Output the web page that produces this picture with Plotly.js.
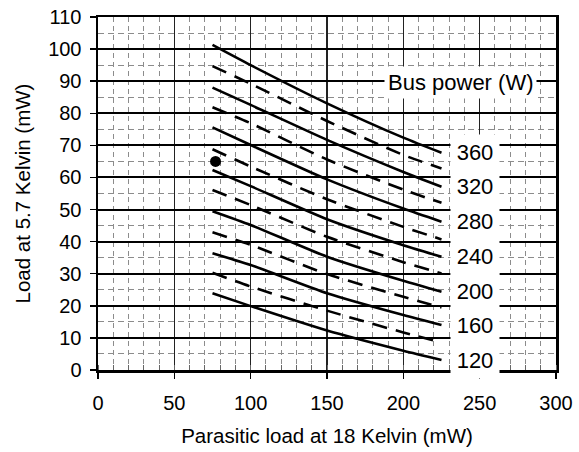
<!DOCTYPE html>
<html><head><meta charset="utf-8">
<script src="https://cdn.plot.ly/plotly-3.0.1.min.js"></script>
<style>html,body{margin:0;padding:0;background:#fff}#chart{width:579px;height:452px}</style>
</head><body><div id="chart"></div>
<script>
// Parasitic load at 18 K (mW) sample positions
const parasitic = [75, 100, 150, 200, 225];
// Load at 5.7 K (mW) for each bus power curve (W)
const bus360 = [101.3, 95.0, 83.1, 72.4, 67.7];
const bus340 = [94.7, 89.2, 77.6, 67.0, 62.8];
const bus320 = [88.0, 82.6, 71.7, 61.7, 57.1];
const bus300 = [81.9, 76.9, 65.6, 56.2, 52.1];
const bus280 = [75.6, 70.1, 59.4, 50.3, 46.2];
const bus260 = [68.8, 63.4, 53.2, 44.6, 40.7];
const bus240 = [62.3, 57.3, 47.0, 38.9, 35.3];
const bus220 = [56.1, 51.4, 41.5, 33.6, 30.1];
const bus200 = [49.5, 45.2, 35.3, 27.8, 24.4];
const bus180 = [42.9, 39.0, 29.9, 22.8, 19.5];
const bus160 = [36.4, 32.7, 23.9, 17.1, 14.0];
const bus140 = [30.3, 26.0, 18.5, 11.7, 8.6];
const bus120 = [23.9, 19.9, 12.3, 6.0, 3.1];
const busPower = [360, 340, 320, 300, 280, 260, 240, 220, 200, 180, 160, 140, 120];
const labelledPower = [360, 320, 280, 240, 200, 160, 120];
const designX = [77];
const designY = [65];

const curves = [bus360, bus340, bus320, bus300, bus280, bus260, bus240, bus220, bus200, bus180, bus160, bus140, bus120];
const FONT = '"Liberation Sans", Arial, sans-serif';

const traces = curves.map((ys, i) => ({
  x: parasitic, y: ys, mode: 'lines', name: busPower[i] + ' W',
  line: {color: '#000', width: 2.6, dash: (i % 2) ? '15px,9px' : 'solid', shape: 'spline', smoothing: 0.6},
  hoverinfo: 'skip', showlegend: false
}));
traces.push({x: designX, y: designY, mode: 'markers', marker: {color: '#000', size: 11}, hoverinfo: 'skip', showlegend: false});

const annotations = labelledPower.map(p => {
  const ys = curves[busPower.indexOf(p)];
  return {x: 247, y: ys[ys.length - 1], xref: 'x', yref: 'y', text: String(p), showarrow: false,
    font: {family: FONT, size: 22, color: '#000'}, bgcolor: '#fff', borderpad: 5, width: 38, align: 'center'};
});
annotations.push({x: 237.5, y: 89.5, xref: 'x', yref: 'y', text: 'Bus power (W)', showarrow: false,
  font: {family: FONT, size: 22, color: '#000'}, bgcolor: '#fff', borderpad: 3});

const layout = {
  width: 579, height: 452,
  margin: {l: 98, r: 23, t: 17, b: 82},
  paper_bgcolor: '#fff', plot_bgcolor: '#fff',
  font: {family: FONT, color: '#000'},
  showlegend: false,
  xaxis: {
    range: [0, 300], tick0: 0, dtick: 50, automargin: false,
    showgrid: true, gridcolor: '#222', gridwidth: 1.5, zeroline: false,
    showline: true, linecolor: '#000', linewidth: 2.5, mirror: true,
    ticks: 'outside', ticklen: 6, tickwidth: 1.5, tickcolor: '#000', ticklabelstandoff: 7,
    tickfont: {family: FONT, size: 20, color: '#000'},
    minor: {dtick: 10, showgrid: true, gridcolor: '#8c8c8c', gridwidth: 1, griddash: '5px,4px', ticks: 'inside', ticklen: 5, tickcolor: '#666', tickwidth: 1},
    title: {text: 'Parasitic load at 18 Kelvin (mW)', font: {family: FONT, size: 20.5, color: '#000'}, standoff: 16}
  },
  yaxis: {
    range: [0, 110], tick0: 0, dtick: 10, automargin: false,
    showgrid: true, gridcolor: '#000', gridwidth: 2, zeroline: false,
    showline: true, linecolor: '#000', linewidth: 2.5, mirror: true,
    ticks: 'outside', ticklen: 6, tickwidth: 1.5, tickcolor: '#000', ticklabelstandoff: 4,
    tickfont: {family: FONT, size: 20, color: '#000'},
    minor: {dtick: 5, showgrid: true, gridcolor: '#8c8c8c', gridwidth: 1, griddash: '6px,4px'},
    title: {text: 'Load at 5.7 Kelvin (mW)', font: {family: FONT, size: 20.5, color: '#000'}, standoff: 12}
  },
  annotations: annotations
};
Plotly.newPlot('chart', traces, layout, {staticPlot: true, displayModeBar: false});
</script></body></html>
